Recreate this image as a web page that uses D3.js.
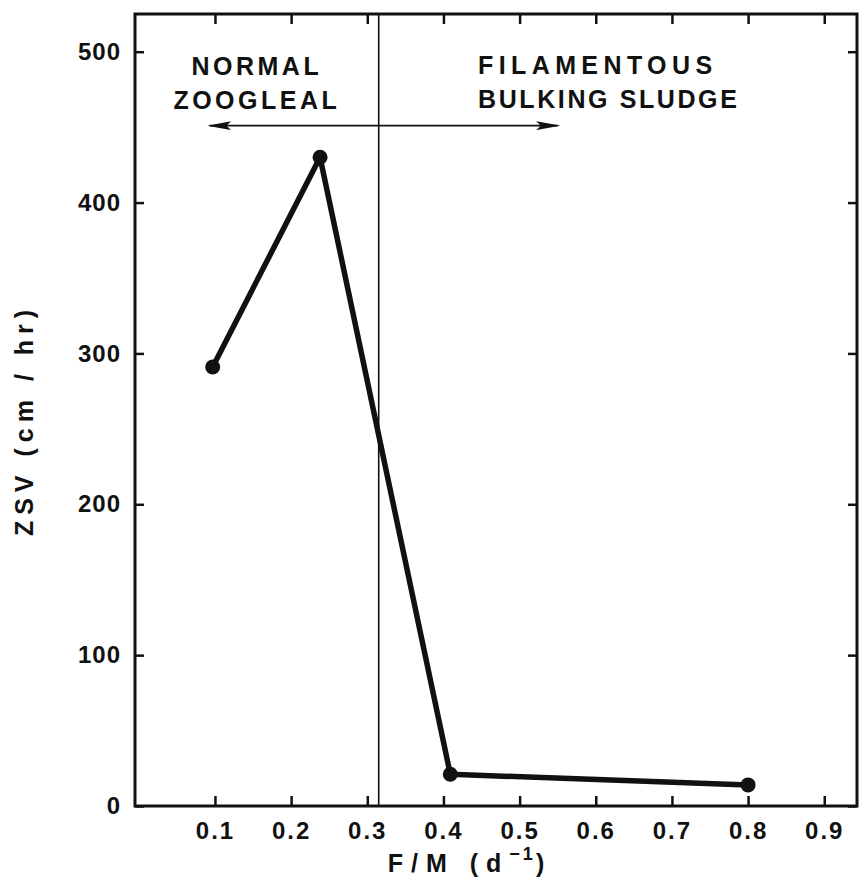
<!DOCTYPE html>
<html>
<head>
<meta charset="utf-8">
<script src="https://cdn.jsdelivr.net/npm/d3@7"></script>
<style>
  html, body { margin: 0; padding: 0; background: #fff; }
  svg text { font-family: "Liberation Sans", Arial, sans-serif; font-weight: bold; fill: #111; }
</style>
</head>
<body>
<svg id="chart" width="862" height="882"></svg>
<script>
// F/M ratio (1/d) versus zone settling velocity (cm/hr)
const fmRatio = [0.097, 0.238, 0.409, 0.80];
const zsv = [291, 430, 21, 14];
const xTickValues = [0.1, 0.2, 0.3, 0.4, 0.5, 0.6, 0.7, 0.8, 0.9];
const yTickValues = [0, 100, 200, 300, 400, 500];
const boundaryFM = 0.315;
const arrowSpan = [0.093, 0.55];
const arrowLevel = 451;
const leftRegionLabel = ["NORMAL", "ZOOGLEAL"];
const rightRegionLabel = ["FILAMENTOUS", "BULKING SLUDGE"];

const svg = d3.select("#chart");
const plotLeft = 135, plotRight = 857, plotTop = 14, plotBottom = 806;

const x = d3.scaleLinear().domain([-0.005, 0.943]).range([plotLeft, plotRight]);
const y = d3.scaleLinear().domain([0, 525]).range([plotBottom, plotTop]);

const ink = "#111";

svg.append("defs").append("marker")
  .attr("id", "head")
  .attr("viewBox", "0 0 10 10")
  .attr("preserveAspectRatio", "none")
  .attr("refX", 9).attr("refY", 5)
  .attr("markerWidth", 24).attr("markerHeight", 9)
  .attr("markerUnits", "userSpaceOnUse")
  .attr("orient", "auto-start-reverse")
  .append("path").attr("d", "M0,0 L10,5 L0,10 L2,5 Z").attr("fill", ink);

// axes with inward ticks on all four sides
const fmt = d3.format(".1f");
const bottomAxis = d3.axisBottom(x).tickValues(xTickValues).tickSize(-10).tickPadding(16).tickFormat(fmt);
const topAxis = d3.axisTop(x).tickValues(xTickValues).tickSize(-10).tickFormat("");
const leftAxis = d3.axisLeft(y).tickValues(yTickValues).tickSize(-9).tickPadding(14);
const rightAxis = d3.axisRight(y).tickValues(yTickValues).tickSize(-9).tickFormat("");

function styleAxis(g) {
  g.select(".domain").remove();
  g.selectAll(".tick line").attr("stroke", ink).attr("stroke-width", 2.5);
  g.selectAll(".tick text").attr("font-size", 24).attr("fill", ink)
    .style("font-family", "'Liberation Sans', Arial, sans-serif").style("font-weight", "bold");
}

svg.append("g").attr("transform", `translate(0,${plotBottom})`).call(bottomAxis).call(styleAxis)
  .selectAll(".tick text").attr("letter-spacing", 2);
svg.append("g").attr("transform", `translate(0,${plotTop})`).call(topAxis).call(styleAxis);
svg.append("g").attr("transform", `translate(${plotLeft},0)`).call(leftAxis).call(styleAxis)
  .selectAll(".tick text").attr("letter-spacing", 1);
svg.append("g").attr("transform", `translate(${plotRight},0)`).call(rightAxis).call(styleAxis);

// frame
svg.append("rect")
  .attr("x", plotLeft).attr("y", plotTop)
  .attr("width", plotRight - plotLeft).attr("height", plotBottom - plotTop)
  .attr("fill", "none").attr("stroke", ink).attr("stroke-width", 3);

// regime boundary
svg.append("line")
  .attr("x1", x(boundaryFM)).attr("x2", x(boundaryFM))
  .attr("y1", plotTop).attr("y2", plotBottom)
  .attr("stroke", ink).attr("stroke-width", 1.6);

// double-headed arrow
svg.append("line")
  .attr("x1", x(arrowSpan[0])).attr("x2", x(arrowSpan[1]))
  .attr("y1", y(arrowLevel)).attr("y2", y(arrowLevel))
  .attr("stroke", ink).attr("stroke-width", 1.8)
  .attr("marker-start", "url(#head)").attr("marker-end", "url(#head)");

// region labels
const regionFont = 25;
svg.append("g").selectAll("text").data(leftRegionLabel).join("text")
  .attr("x", x(0.155)).attr("y", (d, i) => 75 + i * 34)
  .attr("text-anchor", "middle").attr("font-size", regionFont).attr("letter-spacing", 3.5)
  .text(d => d);
svg.append("g").selectAll("text").data(rightRegionLabel).join("text")
  .attr("x", 478).attr("y", (d, i) => 74 + i * 34)
  .attr("text-anchor", "start").attr("font-size", regionFont)
  .attr("letter-spacing", (d, i) => i === 0 ? 5.4 : 2.6)
  .text(d => d);

// data line and points
const pts = fmRatio.map((v, i) => [v, zsv[i]]);
svg.append("path")
  .datum(pts)
  .attr("d", d3.line().x(d => x(d[0])).y(d => y(d[1])))
  .attr("fill", "none").attr("stroke", ink).attr("stroke-width", 5.5)
  .attr("stroke-linejoin", "round");
svg.append("g").selectAll("circle").data(pts).join("circle")
  .attr("cx", d => x(d[0])).attr("cy", d => y(d[1])).attr("r", 7.5)
  .attr("fill", ink);

// axis titles
const xt = svg.append("text")
  .attr("x", 470).attr("y", 872)
  .attr("text-anchor", "middle").attr("font-size", 25).attr("letter-spacing", 8)
  .attr("xml:space", "preserve");
xt.append("tspan").text("F/M (d");
xt.append("tspan").attr("font-size", 18).attr("dy", -12).attr("letter-spacing", 3).text("−1");
xt.append("tspan").attr("dy", 12).text(")");

svg.append("text")
  .attr("transform", "translate(33,420) rotate(-90)")
  .attr("text-anchor", "middle").attr("font-size", 25).attr("letter-spacing", 6)
  .text("ZSV (cm / hr)");
</script>
</body>
</html>
